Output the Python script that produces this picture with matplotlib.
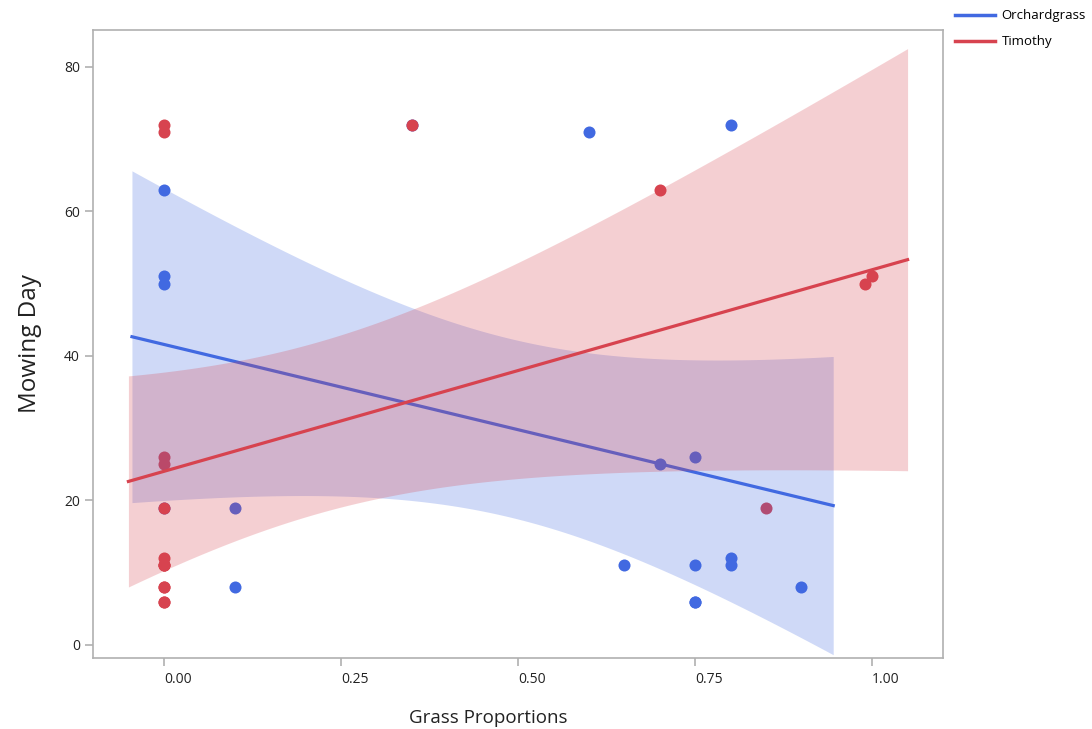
import numpy as np
import matplotlib
matplotlib.use("Agg")
import matplotlib.pyplot as plt
from matplotlib.lines import Line2D

plt.rcParams['font.family'] = ['Open Sans', 'DejaVu Sans']

# datos: proporcion de cada pasto y dia de corte
orchard_x = [0, 0, 0, 0, 0.1, 0.1, 0.35, 0.6, 0.65, 0.7,
             0.75, 0.75, 0.75, 0.75, 0.8, 0.8, 0.8, 0.9]
orchard_y = [63, 51, 50, 19, 19, 8, 72, 71, 11, 25,
             26, 11, 6, 6, 72, 12, 11, 8]

timothy_x = [0, 0, 0, 0, 0, 0, 0, 0, 0, 0, 0, 0, 0,
             0.35, 0.7, 0.85, 0.99, 1.0]
timothy_y = [72, 71, 26, 25, 19, 12, 11, 11, 11, 8, 8, 6, 6,
             72, 63, 19, 50, 51]

series_names = ["Orchardgrass", "Timothy"]
x_ticks = [0, 0.25, 0.5, 0.75, 1.0]
x_tick_labels = ["0.00", "0.25", "0.50", "0.75", "1.00"]
y_ticks = [0, 20, 40, 60, 80]

c_blue = "#4169e1"
c_red = "#d7434f"


def t_crit(df):
    try:
        from scipy import stats
        return stats.t.ppf(0.975, df)
    except Exception:
        tabla = {14: 2.145, 15: 2.131, 16: 2.120, 17: 2.110, 18: 2.101}
        return tabla.get(df, 1.96)


# Recta de minimos cuadrados con banda de confianza del 95%
def ajuste(x, y):
    x = np.asarray(x, float)
    y = np.asarray(y, float)
    n = len(x)
    b, a = np.polyfit(x, y, 1)
    rango = x.max() - x.min()
    xs = np.linspace(x.min() - 0.05 * rango, x.max() + 0.05 * rango, 200)
    ys = a + b * xs
    res = y - (a + b * x)
    s = np.sqrt(np.sum(res ** 2) / (n - 2))
    sxx = np.sum((x - x.mean()) ** 2)
    se = s * np.sqrt(1 / n + (xs - x.mean()) ** 2 / sxx)
    t = t_crit(n - 2)
    return xs, ys, ys - t * se, ys + t * se


fig = plt.figure(figsize=(10.92, 7.29), dpi=100)
ax = fig.add_axes([93 / 1092, 1 - 658 / 729, 850 / 1092, 628 / 729])

ax.scatter(orchard_x, orchard_y, s=75, color=c_blue, lw=0, zorder=2)
ax.scatter(timothy_x, timothy_y, s=75, color=c_red, lw=0, zorder=2.1)

z = 3
for xd, yd, col in [(orchard_x, orchard_y, c_blue), (timothy_x, timothy_y, c_red)]:
    xs, ys, lo, hi = ajuste(xd, yd)
    ax.fill_between(xs, lo, hi, color=col, alpha=0.25, lw=0, zorder=z)
    ax.plot(xs, ys, color=col, lw=2.3, zorder=z + 0.1)
    z += 0.2

ax.set_xlim(-0.1, 1.1)
ax.set_ylim(-1.8, 85.1)
ax.set_xticks(x_ticks)
ax.set_xticklabels(x_tick_labels)
ax.set_yticks(y_ticks)
for lab in ax.get_xticklabels():
    lab.set_ha("left")

for sp in ax.spines.values():
    sp.set_color("#b0b0b0")
    sp.set_linewidth(1.2)
ax.tick_params(colors="#b0b0b0", labelcolor="#222222", labelsize=10,
               length=6, width=1.2)
ax.tick_params(axis="x", pad=4)

ax.set_xlabel("Grass Proportions", fontsize=13.5, color="#222222", labelpad=16)
ax.xaxis.label.set_x((488 - 93) / 850)
ax.set_ylabel("Mowing Day", fontsize=17.5, color="#222222", labelpad=16)

handles = [Line2D([], [], color=c_blue, lw=2.5), Line2D([], [], color=c_red, lw=2.5)]
fig.legend(handles, series_names, loc="upper left", bbox_to_anchor=(946 / 1092, 1.0),
           frameon=False, fontsize=9.5, handlelength=3.0, handletextpad=0.5,
           labelspacing=1.0, borderaxespad=0.3)

fig.savefig("out.png", dpi=100)
